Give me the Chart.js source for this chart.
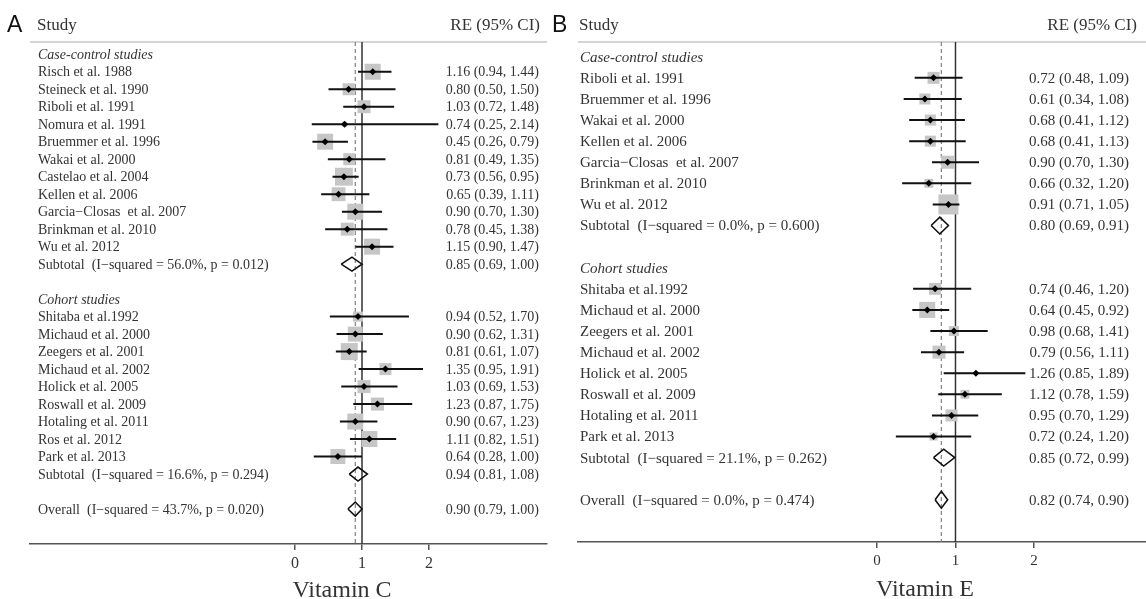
<!DOCTYPE html>
<html>
<head>
<meta charset="utf-8">
<script src="https://cdn.jsdelivr.net/npm/chart.js@4"></script>
<style>
  html, body { margin: 0; padding: 0; background: #fff; }
  #wrap { position: relative; width: 1146px; height: 599px; overflow: hidden; }
  canvas { position: absolute; top: 0; }
  #chartA { left: 0; }
  #chartB { left: 545px; }
</style>
</head>
<body>
<div id="wrap">
  <canvas id="chartA" width="548" height="599"></canvas>
  <canvas id="chartB" width="601" height="599"></canvas>
</div>
<script>
/* ==========================================================
   DATA
   ========================================================== */
// A: Vitamin C, case-control studies
const caseNamesC = ['Risch et al. 1988', 'Steineck et al. 1990', 'Riboli et al. 1991', 'Nomura et al. 1991',
    'Bruemmer et al. 1996', 'Wakai et al. 2000', 'Castelao et al. 2004', 'Kellen et al. 2006',
    'Garcia\u2212Closas  et al. 2007', 'Brinkman et al. 2010', 'Wu et al. 2012'];
const caseEstC = [1.16, 0.80, 1.03, 0.74, 0.45, 0.81, 0.73, 0.65, 0.90, 0.78, 1.15];
const caseLoC  = [0.94, 0.50, 0.72, 0.25, 0.26, 0.49, 0.56, 0.39, 0.70, 0.45, 0.90];
const caseHiC  = [1.44, 1.50, 1.48, 2.14, 0.79, 1.35, 0.95, 1.11, 1.30, 1.38, 1.47];
const caseWeightC = [16, 9, 10.6, 1.6, 16, 9, 20, 12, 16, 10.6, 16];
const caseSubC = [0.85, 0.69, 1.00];
const caseHetC = [56.0, 0.012];

// A: Vitamin C, cohort studies
const cohortNamesC = ['Shitaba et al.1992', 'Michaud et al. 2000', 'Zeegers et al. 2001', 'Michaud et al. 2002',
    'Holick et al. 2005', 'Roswall et al. 2009', 'Hotaling et al. 2011', 'Ros et al. 2012', 'Park et al. 2013'];
const cohortEstC = [0.94, 0.90, 0.81, 1.35, 1.03, 1.23, 0.90, 1.11, 0.64];
const cohortLoC  = [0.52, 0.62, 0.61, 0.95, 0.69, 0.87, 0.67, 0.82, 0.28];
const cohortHiC  = [1.70, 1.31, 1.07, 1.91, 1.53, 1.75, 1.23, 1.51, 1.00];
const cohortWeightC = [6.3, 14, 18, 9, 10.6, 10.6, 16, 16, 14];
const cohortSubC = [0.94, 0.81, 1.08];
const cohortHetC = [16.6, 0.294];
const overallC = [0.90, 0.79, 1.00];
const overallHetC = [43.7, 0.020];

// B: Vitamin E, case-control studies
const caseNamesE = ['Riboli et al. 1991', 'Bruemmer et al. 1996', 'Wakai et al. 2000', 'Kellen et al. 2006',
    'Garcia\u2212Closas  et al. 2007', 'Brinkman et al. 2010', 'Wu et al. 2012'];
const caseEstE = [0.72, 0.61, 0.68, 0.68, 0.90, 0.66, 0.91];
const caseLoE  = [0.48, 0.34, 0.41, 0.41, 0.70, 0.32, 0.71];
const caseHiE  = [1.09, 1.08, 1.12, 1.13, 1.30, 1.20, 1.05];
const caseWeightE = [9, 7.6, 7.6, 7.6, 10.6, 5, 25];
const caseSubE = [0.80, 0.69, 0.91];
const caseHetE = [0.0, 0.600];

// B: Vitamin E, cohort studies
const cohortNamesE = ['Shitaba et al.1992', 'Michaud et al. 2000', 'Zeegers et al. 2001', 'Michaud et al. 2002',
    'Holick et al. 2005', 'Roswall et al. 2009', 'Hotaling et al. 2011', 'Park et al. 2013'];
const cohortEstE = [0.74, 0.64, 0.98, 0.79, 1.26, 1.12, 0.95, 0.72];
const cohortLoE  = [0.46, 0.45, 0.68, 0.56, 0.85, 0.78, 0.70, 0.24];
const cohortHiE  = [1.20, 0.92, 1.41, 1.11, 1.89, 1.59, 1.29, 1.20];
const cohortWeightE = [9, 16, 6.3, 10.6, 1, 5, 9, 4];
const cohortSubE = [0.85, 0.72, 0.99];
const cohortHetE = [21.1, 0.262];
const overallE = [0.82, 0.74, 0.90];
const overallHetE = [0.0, 0.474];

const xTicks = [0, 1, 2];

/* ==========================================================
   ROW TABLE
   ========================================================== */
const MINUS = '\u2212';
const hetLabel = (word, het) => `${word}  (I${MINUS}squared = ${het[0].toFixed(1)}%, p = ${het[1].toFixed(3)})`;
const ciText = (e, l, h) => `${e.toFixed(2)} (${l.toFixed(2)}, ${h.toFixed(2)})`;

function buildRows(groups, overall, overallHet) {
    const rows = [];
    let r = 0;
    groups.forEach(g => {
        rows.push({ y: r++, type: 'header', label: g.title });
        g.names.forEach((n, i) => {
            rows.push({ y: r++, type: 'study', label: n, est: g.est[i], lo: g.lo[i], hi: g.hi[i], w: g.w[i] });
        });
        rows.push({ y: r++, type: 'pooled', label: hetLabel('Subtotal', g.het), est: g.sub[0], lo: g.sub[1], hi: g.sub[2] });
        r++; // blank line
    });
    rows.push({ y: r, type: 'pooled', label: hetLabel('Overall', overallHet), est: overall[0], lo: overall[1], hi: overall[2] });
    return rows;
}

const rowsC = buildRows([
    { title: 'Case-control studies', names: caseNamesC, est: caseEstC, lo: caseLoC, hi: caseHiC, w: caseWeightC, sub: caseSubC, het: caseHetC },
    { title: 'Cohort studies', names: cohortNamesC, est: cohortEstC, lo: cohortLoC, hi: cohortHiC, w: cohortWeightC, sub: cohortSubC, het: cohortHetC }
], overallC, overallHetC);

const rowsE = buildRows([
    { title: 'Case-control studies', names: caseNamesE, est: caseEstE, lo: caseLoE, hi: caseHiE, w: caseWeightE, sub: caseSubE, het: caseHetE },
    { title: 'Cohort studies', names: cohortNamesE, est: cohortEstE, lo: cohortLoE, hi: cohortHiE, w: cohortWeightE, sub: cohortSubE, het: cohortHetE }
], overallE, overallHetE);

/* ==========================================================
   TEXT / HEADER PLUGIN
   ========================================================== */
const SERIF = '"Liberation Serif", "Times New Roman", serif';
const INK = '#333';

function forestText(p) {
    return {
        id: 'forestText',
        beforeDatasetsDraw(chart) {
            const { ctx, chartArea: a } = chart;
            ctx.save();
            ctx.strokeStyle = '#d4d4d4';
            ctx.lineWidth = 2;
            ctx.beginPath();
            ctx.moveTo(a.left, a.top);
            ctx.lineTo(a.right, a.top);
            ctx.stroke();
            ctx.restore();
        },
        afterDraw(chart) {
            const { ctx, scales: { y } } = chart;
            ctx.save();
            ctx.fillStyle = '#111';
            ctx.textBaseline = 'middle';
            ctx.font = '23px "Liberation Sans", Arial, sans-serif';
            ctx.textAlign = 'left';
            ctx.fillText(p.letter, 7, 26);

            ctx.fillStyle = INK;
            ctx.font = `17px ${SERIF}`;
            ctx.fillText('Study', p.studyX, 26);
            ctx.textAlign = 'right';
            ctx.fillText('RE (95% CI)', p.reX, 26);

            p.rows.forEach(r => {
                const py = y.getPixelForValue(r.y) + 1;
                ctx.textAlign = 'left';
                ctx.font = (r.type === 'header' ? 'italic ' : '') + `${p.rowFont}px ${SERIF}`;
                ctx.fillText(r.label, p.nameX, py);
                if (r.type !== 'header') {
                    ctx.textAlign = 'right';
                    ctx.fillText(ciText(r.est, r.lo, r.hi), p.valueX, py);
                }
            });

            ctx.textAlign = 'center';
            ctx.textBaseline = 'alphabetic';
            ctx.font = `24px ${SERIF}`;
            ctx.fillText(p.title, p.titleX, p.titleY);
            ctx.restore();
        }
    };
}

/* ==========================================================
   CHART FACTORY
   ========================================================== */
function makeForest(id, p) {
    const studies = p.rows.filter(r => r.type === 'study');
    const pooled = p.rows.filter(r => r.type === 'pooled');
    const overall = pooled[pooled.length - 1];
    const yMin = -0.7;
    const half = 0.4;

    const ciData = [];
    studies.forEach(r => ciData.push({ x: r.lo, y: r.y }, { x: r.hi, y: r.y }, { x: null, y: null }));

    const diamondData = [];
    pooled.forEach(r => diamondData.push(
        { x: r.lo, y: r.y }, { x: r.est, y: r.y - half }, { x: r.hi, y: r.y },
        { x: r.est, y: r.y + half }, { x: r.lo, y: r.y }, { x: null, y: null }));

    return new Chart(document.getElementById(id), {
        type: 'scatter',
        data: {
            datasets: [
                {   // weight squares
                    data: studies.map(r => ({ x: r.est, y: r.y })),
                    pointStyle: 'rect',
                    pointRadius: studies.map(r => 4 * Math.sqrt(r.w) / Math.SQRT2),
                    backgroundColor: '#c6c6c6',
                    borderWidth: 0,
                    order: 4
                },
                {   // null line
                    data: [{ x: 1, y: yMin }, { x: 1, y: p.yMax }],
                    showLine: true, borderColor: '#333', borderWidth: 1.5, pointRadius: 0,
                    order: 5
                },
                {   // overall estimate line
                    data: [{ x: overall.est, y: yMin }, { x: overall.est, y: p.yMax }],
                    showLine: true, borderColor: '#8a8a8a', borderWidth: 1.3, borderDash: [4, 3], pointRadius: 0,
                    order: 5
                },
                {   // confidence intervals
                    data: ciData,
                    showLine: true, spanGaps: false, borderColor: '#111', borderWidth: 2, pointRadius: 0,
                    order: 3
                },
                {   // point estimates
                    data: studies.map(r => ({ x: r.est, y: r.y })),
                    pointStyle: 'rectRot', pointRadius: 3.5, backgroundColor: '#000', borderWidth: 0,
                    order: 2
                },
                {   // pooled diamonds
                    data: diamondData,
                    showLine: true, spanGaps: false, borderColor: '#111', borderWidth: 1.6,
                    borderJoinStyle: 'miter', pointRadius: 0, fill: false, tension: 0,
                    order: 1
                }
            ]
        },
        options: {
            responsive: false,
            animation: false,
            events: [],
            clip: false,
            layout: { autoPadding: false, padding: p.padding },
            plugins: { legend: { display: false }, tooltip: { enabled: false } },
            scales: {
                x: {
                    type: 'linear',
                    min: p.xMin, max: p.xMax,
                    afterBuildTicks: s => { s.ticks = xTicks.map(v => ({ value: v })); },
                    afterFit: s => { s.height = p.axisH; },
                    ticks: { font: { family: SERIF, size: p.tickFont }, color: INK, padding: 4, maxRotation: 0, autoSkip: false },
                    grid: { drawOnChartArea: false, drawTicks: true, tickLength: 6, color: '#555', lineWidth: 1.5 },
                    border: { display: true, color: '#555', width: 1.5 }
                },
                y: { type: 'linear', reverse: true, min: yMin, max: p.yMax, display: false }
            }
        },
        plugins: [forestText(p)]
    });
}

makeForest('chartA', {
    rows: rowsC, letter: 'A', title: 'Vitamin C',
    yMax: 28, xMin: -3.955, xMax: 3.761, axisH: 55,
    padding: { left: 30, right: 1, top: 42, bottom: 0 },
    studyX: 37, reX: 540, nameX: 38, valueX: 539, rowFont: 14, tickFont: 16,
    titleX: 342, titleY: 597
});

makeForest('chartB', {
    rows: rowsE, letter: 'B', title: 'Vitamin E',
    yMax: 23, xMin: -3.809, xMax: 3.427, axisH: 57,
    padding: { left: 33, right: 0, top: 42, bottom: 0 },
    studyX: 34, reX: 592, nameX: 35, valueX: 584, rowFont: 15, tickFont: 15,
    titleX: 380, titleY: 596
});
</script>
</body>
</html>
